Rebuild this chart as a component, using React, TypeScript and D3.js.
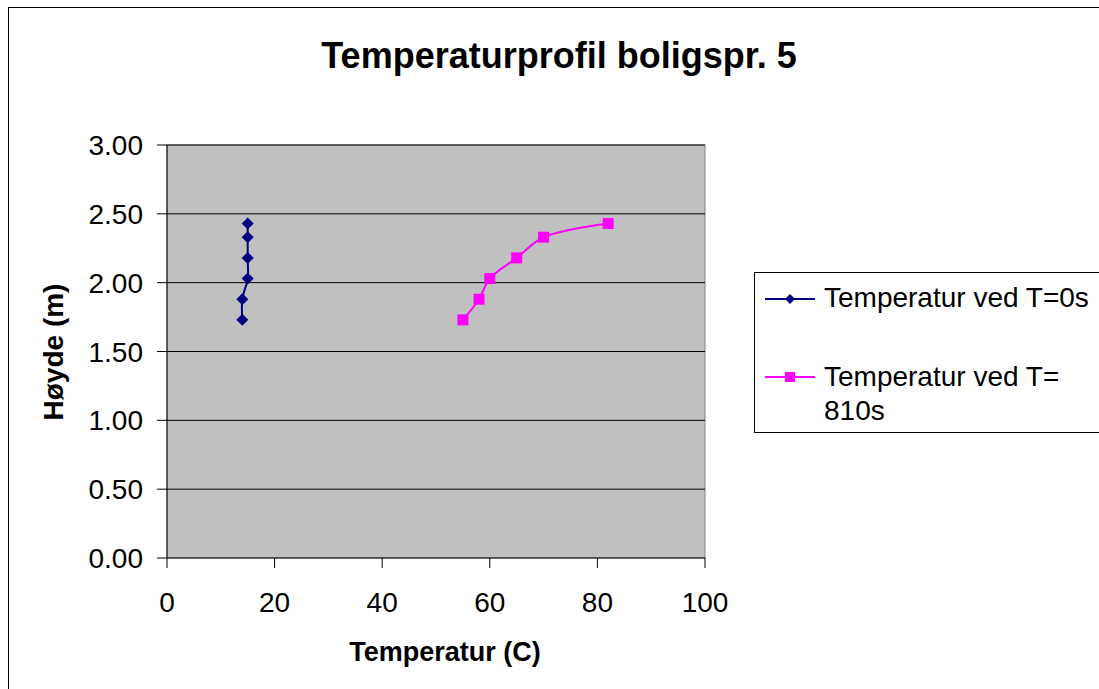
import React from "react";
import * as d3 from "d3";

const heights = [2.43, 2.33, 2.18, 2.03, 1.88, 1.73];
const tempT0 = [15, 15, 15, 15, 14, 14];
const tempT810 = [82, 70, 65, 60, 58, 55];
const xTicks = [0, 20, 40, 60, 80, 100];
const yTicks = [0, 0.5, 1, 1.5, 2, 2.5, 3];
const seriesNames = ["Temperatur ved T=0s", "Temperatur ved T=\n810s"];
const title = "Temperaturprofil boligspr. 5";
const xLabel = "Temperatur (C)";
const yLabel = "Høyde (m)";

export default function App() {
  const W = 1099, H = 689;
  const left = 167, right = 705, top = 145, bottom = 558;
  const x = d3.scaleLinear().domain([0, 100]).range([left, right]);
  const y = d3.scaleLinear().domain([0, 3]).range([bottom, top]);
  const line = d3
    .line<[number, number]>()
    .x((d) => x(d[0]))
    .y((d) => y(d[1]))
    .curve(d3.curveCatmullRom.alpha(0.5));
  const s0: [number, number][] = tempT0.map((t, i) => [t, heights[i]]);
  const s1: [number, number][] = tempT810.map((t, i) => [t, heights[i]]);
  const font = "Liberation Sans, Arial, sans-serif";
  const diamond = (cx: number, cy: number, r: number) =>
    `M${cx},${cy - r}L${cx + r},${cy}L${cx},${cy + r}L${cx - r},${cy}Z`;

  return (
    <svg
      width={W}
      height={H}
      style={{ position: "absolute", left: 0, top: 0 }}
      fontFamily={font}
    >
      <rect x={0} y={0} width={W} height={H} fill="#fff" />
      <rect x={8.5} y={7.5} width={W + 10} height={H + 10} fill="none" stroke="#000" strokeWidth={1} />
      <text x={559} y={68} textAnchor="middle" fontSize={36} fontWeight="bold">
        {title}
      </text>
      <rect x={left} y={top} width={right - left} height={bottom - top} fill="#C0C0C0" stroke="#808080" strokeWidth={1} />
      {yTicks.map((t) => (
        <g key={"y" + t}>
          {t > 0 && <line x1={left} x2={right} y1={y(t)} y2={y(t)} stroke="#000" strokeWidth={1} />}
          <line x1={left - 10} x2={left} y1={y(t)} y2={y(t)} stroke="#000" />
          <text x={left - 24} y={y(t) + 10} textAnchor="end" fontSize={28}>
            {t.toFixed(2)}
          </text>
        </g>
      ))}
      <line x1={left} x2={left} y1={top} y2={bottom} stroke="#000" />
      <line x1={left} x2={right} y1={bottom} y2={bottom} stroke="#000" />
      {xTicks.map((t) => (
        <g key={"x" + t}>
          <line x1={x(t)} x2={x(t)} y1={bottom} y2={bottom + 10} stroke="#000" />
          <text x={x(t)} y={612} textAnchor="middle" fontSize={28}>
            {t}
          </text>
        </g>
      ))}
      <text x={445} y={661} textAnchor="middle" fontSize={27} fontWeight="bold">
        {xLabel}
      </text>
      <text
        transform={`translate(63,${352}) rotate(-90)`}
        textAnchor="middle"
        fontSize={28}
        fontWeight="bold"
      >
        {yLabel}
      </text>
      <path d={line(s0) || ""} fill="none" stroke="#000080" strokeWidth={2} />
      {s0.map((d, i) => (
        <path key={"d" + i} d={diamond(x(d[0]), y(d[1]), 6)} fill="#000080" />
      ))}
      <path d={line(s1) || ""} fill="none" stroke="#FF00FF" strokeWidth={2} />
      {s1.map((d, i) => (
        <rect key={"s" + i} x={x(d[0]) - 5.5} y={y(d[1]) - 5.5} width={11} height={11} fill="#FF00FF" />
      ))}
      <rect x={754.5} y={272.5} width={360} height={160} fill="#fff" stroke="#000" />
      <line x1={765} x2={815} y1={299} y2={299} stroke="#000080" strokeWidth={2} />
      <path d={diamond(790, 299, 5)} fill="#000080" />
      <text x={824} y={307} fontSize={28}>
        {seriesNames[0]}
      </text>
      <line x1={765} x2={815} y1={377} y2={377} stroke="#FF00FF" strokeWidth={2} />
      <rect x={785} y={372} width={10} height={10} fill="#FF00FF" />
      <text x={824} y={386} fontSize={28}>
        {seriesNames[1].split("\n")[0]}
      </text>
      <text x={824} y={420} fontSize={28}>
        {seriesNames[1].split("\n")[1]}
      </text>
    </svg>
  );
}
